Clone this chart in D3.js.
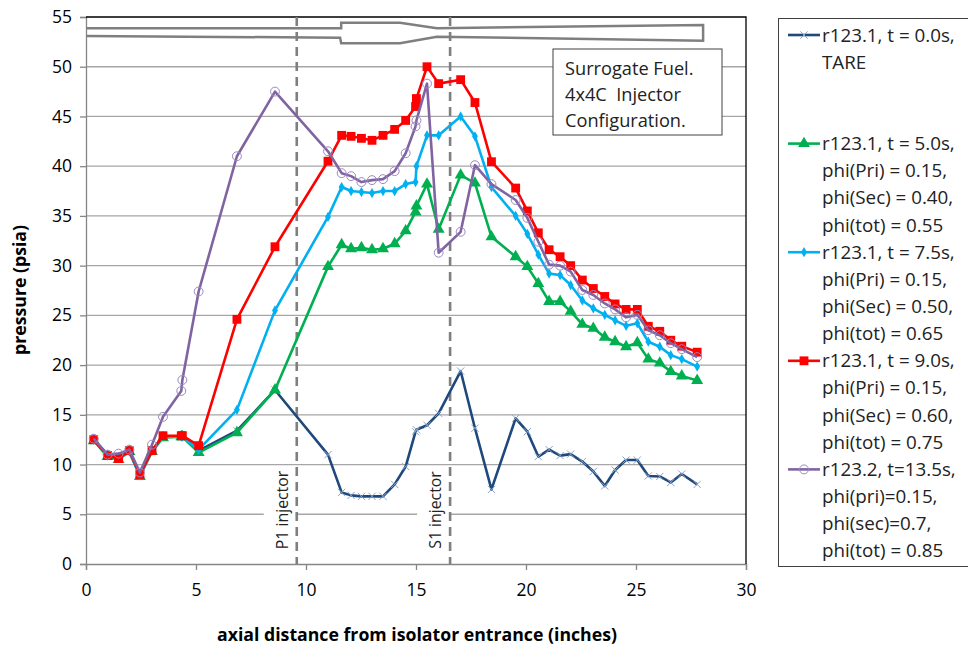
<!DOCTYPE html>
<html>
<head>
<meta charset="utf-8">
<script src="https://cdn.jsdelivr.net/npm/d3@7"></script>
<style>
  body { margin: 0; background: #fff; }
  svg { font-family: "Open Sans", Lato, sans-serif; }
</style>
</head>
<body>
<div id="chart"></div>
<script>
// station positions (inches from isolator entrance), shared by all runs
var stations = [0.35, 0.98, 1.48, 1.97, 2.45, 3.0, 3.5, 4.33, 4.38, 5.12,
    6.86, 8.59, 11.0, 11.62, 12.05, 12.52, 13.0, 13.5, 14.03, 14.53,
    14.98, 15.02, 15.5, 16.03, 17.03, 17.68, 18.43, 19.53, 20.06, 20.56,
    21.05, 21.55, 22.03, 22.56, 23.06, 23.58, 24.05, 24.55, 25.06, 25.56,
    26.08, 26.58, 27.08, 27.78];

var tare = [12.5, 11.0, 10.8, 11.3, 9.0, 11.4, 12.8, 12.8, 12.8, 11.4,
    13.4, 17.5, 11.0, 7.2, 6.9, 6.8, 6.8, 6.8, 8.0, 9.8,
    13.3, 13.5, 13.95, 15.15, 19.4, 13.65, 7.5, 14.65, 13.3, 10.8,
    11.5, 10.9, 11.05, 10.3, 9.3, 7.85, 9.45, 10.45, 10.45, 8.85,
    8.8, 8.2, 9.05, 8.0];

var phi055 = [12.4, 10.8, 10.5, 11.3, 8.8, 11.3, 12.7, 12.8, 12.8, 11.2,
    13.2, 17.5, 29.9, 32.1, 31.7, 31.8, 31.6, 31.7, 32.2, 33.5,
    35.4, 36.0, 38.2, 33.65, 39.1, 38.3, 32.9, 30.9, 29.9, 28.2,
    26.4, 26.4, 25.4, 24.1, 23.7, 22.8, 22.35, 21.85, 22.25, 20.6,
    20.2, 19.35, 18.9, 18.45];

var phi065 = [12.5, 10.9, 10.7, 11.3, 8.9, 11.4, 12.8, 12.8, 12.8, 11.5,
    15.5, 25.5, 34.9, 37.9, 37.5, 37.4, 37.3, 37.5, 37.5, 38.2,
    38.4, 40.0, 43.1, 43.1, 45.0, 43.0, 37.9, 35.0, 33.2, 31.1,
    29.2, 29.05, 28.05, 26.5, 25.7, 25.05, 24.5, 23.95, 24.2, 22.35,
    21.85, 21.0, 20.6, 19.85];

var phi075 = [12.5, 10.9, 10.6, 11.4, 9.0, 11.4, 12.9, 12.9, 12.9, 11.9,
    24.6, 31.9, 40.5, 43.1, 43.0, 42.8, 42.6, 43.1, 43.7, 44.6,
    46.0, 46.8, 50.0, 48.3, 48.7, 46.4, 40.45, 37.8, 35.5, 33.3,
    31.6, 30.9, 30.0, 28.55, 27.7, 26.9, 26.15, 25.6, 25.6, 23.9,
    23.4, 22.5, 21.9, 21.3];

var phi085 = [12.6, 11.0, 11.1, 11.5, 9.2, 12.0, 14.8, 17.4, 18.5, 27.4,
    41.0, 47.5, 41.5, 39.3, 39.0, 38.4, 38.6, 38.7, 39.5, 41.3,
    44.0, 44.6, 48.3, 31.3, 33.4, 40.1, 38.2, 36.6, 34.8, 32.4,
    30.1, 30.0, 29.4, 27.55, 27.05, 26.2, 25.6, 24.8, 25.05, 23.5,
    23.0, 22.2, 21.6, 20.8];

var xTicks = [0, 5, 10, 15, 20, 25, 30];
var yTicks = [0, 5, 10, 15, 20, 25, 30, 35, 40, 45, 50, 55];

var legendText = [
    ['r123.1, t = 0.0s,', 'TARE'],
    ['r123.1, t = 5.0s,', 'phi(Pri) = 0.15,', 'phi(Sec) = 0.40,', 'phi(tot) = 0.55'],
    ['r123.1, t = 7.5s,', 'phi(Pri) = 0.15,', 'phi(Sec) = 0.50,', 'phi(tot) = 0.65'],
    ['r123.1, t = 9.0s,', 'phi(Pri) = 0.15,', 'phi(Sec) = 0.60,', 'phi(tot) = 0.75'],
    ['r123.2, t=13.5s,', 'phi(pri)=0.15,', 'phi(sec)=0.7,', 'phi(tot) = 0.85']
];

var noteText = ['Surrogate Fuel.', '4x4C  Injector', 'Configuration.'];

// injector stations
var injectors = [{ x: 9.58, label: 'P1 injector' }, { x: 16.55, label: 'S1 injector' }];

// isolator / combustor outline sketched along the top, in axis units
var ductOutline = [[0, 53.87], [11.6, 53.87], [11.6, 54.43], [14.27, 54.43], [15.95, 53.87],
    [28.05, 54.2], [28.05, 52.62], [15.95, 53.02], [14.27, 52.36], [11.6, 52.36],
    [11.55, 52.92], [0, 53.09]];

var series = [
    { values: tare, color: '#1f497d', marker: d3.symbolTimes, size: 36, mfill: 'none', mstroke: '#8aa4c8' },
    { values: phi055, color: '#00b050', marker: d3.symbolTriangle, size: 62, mfill: '#00b050', mstroke: 'none' },
    { values: phi065, color: '#00b0f0', marker: d3.symbolDiamond, size: 30, mfill: '#00b0f0', mstroke: 'none' },
    { values: phi075, color: '#ff0000', marker: d3.symbolSquare, size: 78, mfill: '#ff0000', mstroke: 'none' },
    { values: phi085, color: '#8064a2', marker: d3.symbolCircle, size: 62, mfill: 'none', mstroke: '#9c88c2' }
];

var W = 968, H = 649;
var svg = d3.select('#chart').append('svg')
    .attr('width', W).attr('height', H);

var x = d3.scaleLinear().domain([0, 30]).range([86, 746]);
var y = d3.scaleLinear().domain([0, 55]).range([564, 17]);

// grid
svg.append('g').selectAll('line')
    .data(yTicks.filter(function (t) { return t > 0 && t < 55; }))
    .enter().append('line')
    .attr('x1', x(0)).attr('x2', x(30))
    .attr('y1', function (d) { return y(d); }).attr('y2', function (d) { return y(d); })
    .attr('stroke', '#a6a6a6').attr('stroke-width', 1.3);

// axes
var yAxis = d3.axisLeft(y).tickValues(yTicks).tickSize(6).tickPadding(8);
var xAxis = d3.axisBottom(x).tickValues(xTicks).tickSize(6).tickPadding(14);
var gy = svg.append('g').attr('transform', 'translate(' + x(0) + ',0)').call(yAxis);
var gx = svg.append('g').attr('transform', 'translate(0,' + y(0) + ')').call(xAxis);
[gx, gy].forEach(function (g) {
    g.select('.domain').attr('stroke', '#868686').attr('stroke-width', 1.3);
    g.selectAll('.tick line').attr('stroke', '#868686').attr('stroke-width', 1.3);
    g.selectAll('.tick text').attr('font-size', 17.5).attr('fill', '#000')
        .attr('font-family', '"Open Sans", sans-serif');
});

// plot border (top/right)
svg.append('path')
    .attr('d', 'M' + x(0) + ',' + y(55) + 'H' + x(30) + 'V' + y(0))
    .attr('fill', 'none').attr('stroke', '#000').attr('stroke-width', 1.3);

// duct sketch
svg.append('path')
    .attr('d', d3.line().x(function (p) { return x(p[0]); }).y(function (p) { return y(p[1]); })(ductOutline))
    .attr('fill', 'none').attr('stroke', '#7f7f7f').attr('stroke-width', 2.5);

// injector lines + labels
var inj = svg.append('g').selectAll('g').data(injectors).enter().append('g');
inj.append('rect')
    .attr('x', function (d) { return x(d.x) - 33; })
    .attr('y', 468).attr('width', 32).attr('height', 92)
    .attr('fill', '#fff');
inj.append('line')
    .attr('x1', function (d) { return x(d.x); }).attr('x2', function (d) { return x(d.x); })
    .attr('y1', y(55)).attr('y2', y(0))
    .attr('stroke', '#7f7f7f').attr('stroke-width', 2.6).attr('stroke-dasharray', '9,6');
inj.append('text')
    .attr('transform', function (d) { return 'translate(' + (x(d.x) - 9) + ',510) rotate(-90)'; })
    .attr('text-anchor', 'middle')
    .attr('font-size', 15.8).attr('fill', '#222')
    .text(function (d) { return d.label; });

// series
var line = d3.line()
    .x(function (d) { return x(d[0]); })
    .y(function (d) { return y(d[1]); });

series.forEach(function (s) {
    var pts = stations.map(function (st, i) { return [st, s.values[i]]; });
    var g = svg.append('g');
    g.append('path')
        .attr('d', line(pts))
        .attr('fill', 'none').attr('stroke', s.color).attr('stroke-width', 2.6)
        .attr('stroke-linejoin', 'round');
    g.selectAll('path.m').data(pts).enter().append('path')
        .attr('class', 'm')
        .attr('transform', function (d) { return 'translate(' + x(d[0]) + ',' + y(d[1]) + ')'; })
        .attr('d', d3.symbol().type(s.marker).size(s.size))
        .attr('fill', s.mfill).attr('stroke', s.mstroke).attr('stroke-width', 1);
});

// note box
svg.append('rect')
    .attr('x', 553).attr('y', 49).attr('width', 169).attr('height', 86)
    .attr('fill', '#fff').attr('stroke', '#404040').attr('stroke-width', 1);
svg.append('g').selectAll('text').data(noteText).enter().append('text')
    .attr('x', 565).attr('y', function (d, i) { return 75 + i * 26; })
    .attr('font-size', 18.2).attr('fill', '#222')
    .style('white-space', 'pre')
    .text(function (d) { return d; });

// axis titles
svg.append('text')
    .attr('transform', 'translate(26,290) rotate(-90)')
    .attr('text-anchor', 'middle').attr('font-size', 17.7).attr('font-weight', 'bold')
    .text('pressure (psia)');
svg.append('text')
    .attr('x', 417).attr('y', 641)
    .attr('text-anchor', 'middle').attr('font-size', 17.7).attr('font-weight', 'bold')
    .text('axial distance from isolator entrance (inches)');

// legend
svg.append('rect')
    .attr('x', 778.5).attr('y', 18.5).attr('width', 200).attr('height', 548)
    .attr('fill', '#fff').attr('stroke', '#404040').attr('stroke-width', 1);
var lineH = 27.15;
var startLine = [0, 4, 8, 12, 16];
var lg = svg.append('g').selectAll('g').data(series).enter().append('g')
    .attr('transform', function (d, i) { return 'translate(0,' + (35 + startLine[i] * lineH) + ')'; });
lg.append('line')
    .attr('x1', 788).attr('x2', 820).attr('y1', 0).attr('y2', 0)
    .attr('stroke', function (d) { return d.color; }).attr('stroke-width', 2.6);
lg.append('path')
    .attr('transform', 'translate(804,0)')
    .attr('d', function (d) { return d3.symbol().type(d.marker).size(d.size)(); })
    .attr('fill', function (d) { return d.mfill; })
    .attr('stroke', function (d) { return d.mstroke; }).attr('stroke-width', 1);
lg.each(function (d, i) {
    d3.select(this).selectAll('text').data(legendText[i]).enter().append('text')
        .attr('x', 822).attr('y', function (t, j) { return j * lineH + 6.5; })
        .attr('font-size', 18.8).attr('fill', '#222')
        .text(function (t) { return t; });
});
</script>
</body>
</html>
